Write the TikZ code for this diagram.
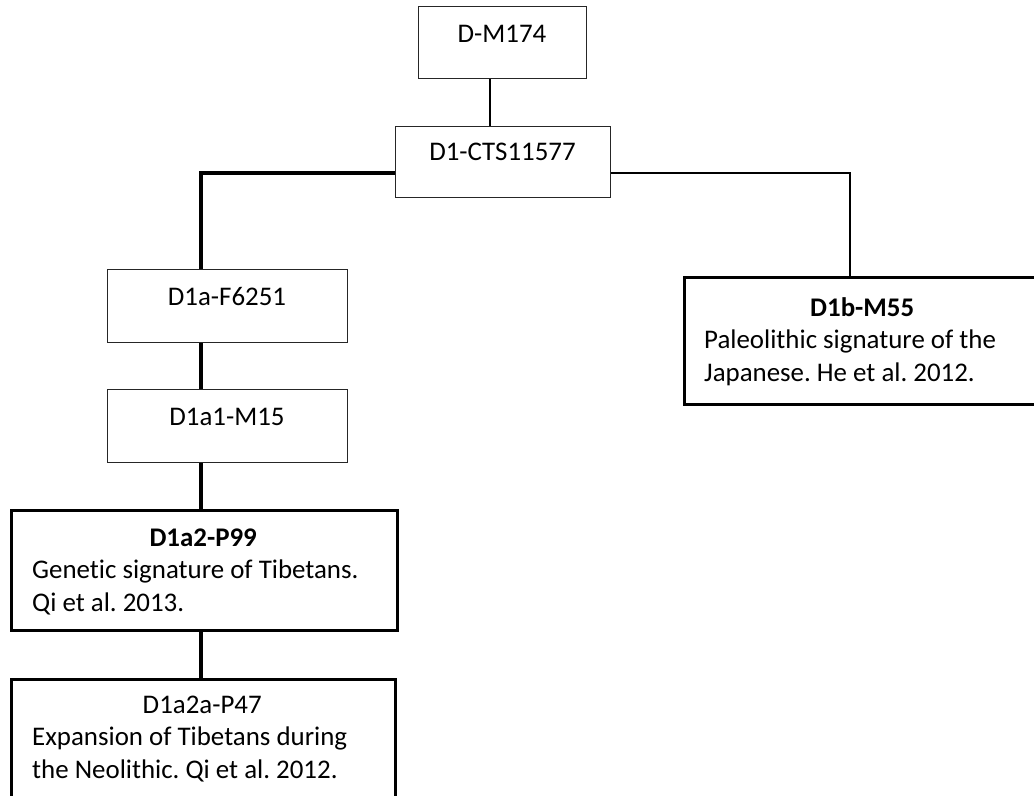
\documentclass[tikz,border=0pt]{standalone}
\usepackage{fontspec}
\setmainfont{Carlito}[Ligatures=NoCommon]
\frenchspacing
\tikzset{
  box/.style={draw=black!85, line width=1.3bp, inner sep=0pt, anchor=north west},
  boldbox/.style={box, draw=black, line width=2.5bp},
  lbl/.style={inner sep=0pt, anchor=base, font=\fontsize{27}{33}\selectfont},
  para/.style={inner sep=0pt, anchor=base west, font=\fontsize{27}{33}\selectfont},
  link/.style={draw=black, line width=2bp},
  trunk/.style={draw=black, line width=3.3bp},
}
\begin{document}
\begin{tikzpicture}[x=1bp, y=-1bp]
  \useasboundingbox (0,0) rectangle (1034,796);
  \clip (0,0) rectangle (1034,796);

  % boxes
  \node[box, minimum width=168bp, minimum height=72bp] (m174) at (418,6) {};
  \node[box, minimum width=215bp, minimum height=71bp] (cts) at (395,126) {};
  \node[box, minimum width=240bp, minimum height=73bp] (f6251) at (107,269) {};
  \node[box, minimum width=240bp, minimum height=73bp] (m15) at (107,389) {};
  \node[boldbox, minimum width=386bp, minimum height=120bp] (p99) at (10,509) {};
  \node[boldbox, minimum width=384bp, minimum height=140bp] (p47) at (10,678) {};
  \node[boldbox, minimum width=358bp, minimum height=127bp] (m55) at (683,276) {};

  % labels
  \node[lbl] (m174t) at (502,43) {D-M174};
  \node[lbl] (ctst) at (502.5,160) {D1-CTS11577};
  \node[lbl] (f6251t) at (227,305) {D1a-F6251};
  \node[lbl] (m15t) at (227,425) {D1a1-M15};
  \node[para] (p99t) at (32,546) {\parbox[t]{342bp}{\centering\textbf{D1a2-P99}\par
    \raggedright Genetic signature of Tibetans.\\Qi et al. 2013.}};
  \node[para] (p47t) at (32,713) {\parbox[t]{340bp}{\centering D1a2a-P47\par
    \raggedright Expansion of Tibetans during\\the Neolithic. Qi et al. 2012.}};
  \node[para] (m55t) at (704,316) {\parbox[t]{316bp}{\centering\textbf{D1b-M55}\par
    \raggedright Paleolithic signature of the\\Japanese. He et al. 2012.}};

  % junctions
  \coordinate (top) at (490,100);
  \coordinate (lj) at (201,173);
  \coordinate (rj) at (850,173);

  % connectors
  \draw[link] (m174.south -| top) -- (cts.north -| top);
  \draw[trunk] (cts.west |- lj) -- (lj) -- (lj |- f6251.north);
  \draw[link] (cts.east |- rj) -- (rj) -- (rj |- m55.north);
  \draw[trunk] (lj |- f6251.south) -- (lj |- m15.north);
  \draw[trunk] (lj |- m15.south) -- (lj |- p99.north);
  \draw[trunk] (lj |- p99.south) -- (lj |- p47.north);
\end{tikzpicture}
\end{document}
